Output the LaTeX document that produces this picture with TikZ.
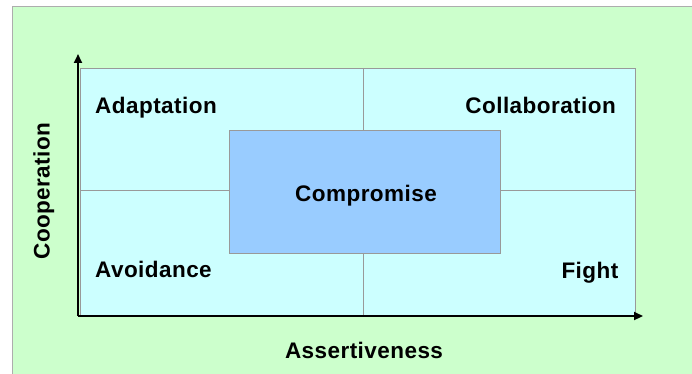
\documentclass[tikz,border=0pt]{standalone}
\usepackage{fontspec}
\setmainfont{Liberation Sans}
\newfontfamily\lblfont[LetterSpace=2]{Liberation Sans}
\usetikzlibrary{arrows.meta}
\definecolor{bggreen}{HTML}{CCFFCC}
\definecolor{quadcyan}{HTML}{CCFFFF}
\definecolor{compblue}{HTML}{99CCFF}
\definecolor{edgegray}{HTML}{999999}
\tikzset{
  lbl/.style={font=\lblfont\fontsize{22.5}{26}\selectfont\bfseries, inner sep=0pt},
  axis/.style={line width=2.2pt, -{Triangle[length=9pt,width=8pt]}},
  quadline/.style={draw=edgegray, line width=0.8pt},
}
\begin{document}
\begin{tikzpicture}[x=1pt,y=-1pt]
\useasboundingbox (0,0) rectangle (692,374);
\fill[white] (0,0) rectangle (692,374);
\filldraw[fill=bggreen, draw=edgegray!80, line width=1pt] (12,7) rectangle (700,380);
\filldraw[fill=quadcyan, draw=edgegray, line width=0.8pt] (80,68) rectangle (635,316);
\coordinate (tm) at (363,68);
\coordinate (bm) at (363,316);
\coordinate (lm) at (80,190);
\coordinate (rm) at (635,190);
\draw[quadline] (tm) -- (bm);
\draw[quadline] (lm) -- (rm);
\node[draw=edgegray, line width=0.8pt, fill=compblue, minimum width=271pt, minimum height=123pt, inner sep=0pt, anchor=north west] (comp) at (229,130) {};
\node[lbl, anchor=base] (comptxt) at (366,201.5) {Compromise};
\coordinate (origin) at (78,316);
\coordinate (ytip) at (78,54);
\coordinate (xtip) at (643,316);
\draw[axis] (origin) -- (ytip);
\draw[axis] (origin) -- (xtip);
\node[lbl, anchor=base west] (adapt) at (95,113.3) {Adaptation};
\node[lbl, anchor=base east] (collab) at (616,113.3) {Collaboration};
\node[lbl, anchor=base west] (avoid) at (95,277.5) {Avoidance};
\node[lbl, anchor=base east] (fight) at (618.5,278) {Fight};
\node[lbl, rotate=90, anchor=base] (coop) at (49.5,191) {Cooperation};
\node[lbl, anchor=base] (assert) at (364,358) {Assertiveness};
\end{tikzpicture}
\end{document}
